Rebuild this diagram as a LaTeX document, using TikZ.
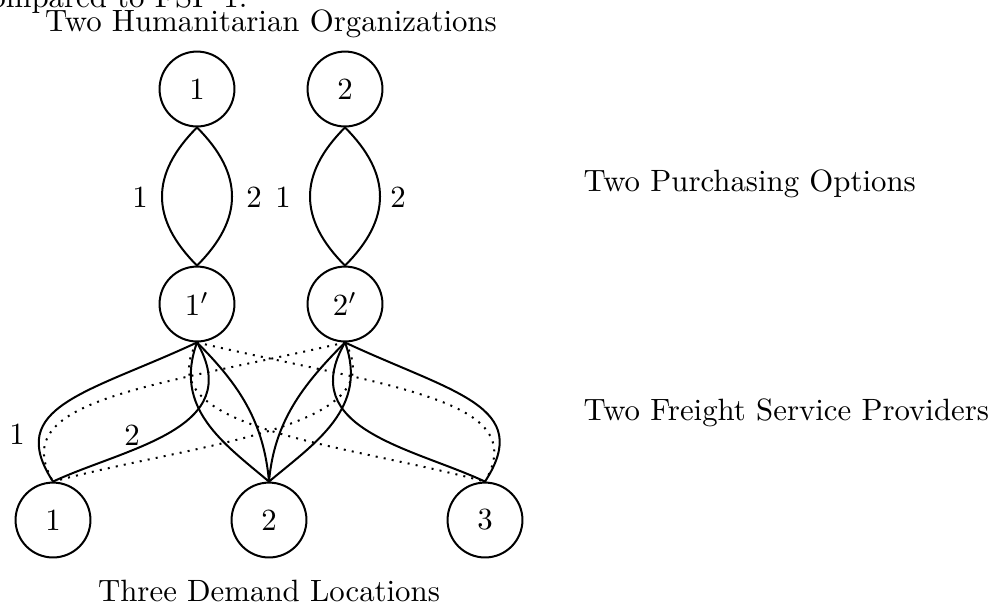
\documentclass[tikz,border=0pt]{standalone}
\begin{document}
\begin{tikzpicture}[x=0.3245pt,y=0.3245pt,
  vert/.style={circle, draw, minimum size=24.3pt, inner sep=0pt, line width=0.65pt},
  lnk/.style={line width=0.65pt},
  dlnk/.style={line width=0.65pt, dotted},
  lbl/.style={inner sep=0pt}]
\useasboundingbox (0,0) rectangle (995,-605);
% captions
\node[lbl, anchor=base east] (cut) at (248,-7) {compared to FSP 1.};
\node[lbl, anchor=base] (tho) at (271,-31) {Two Humanitarian Organizations};
\node[lbl, anchor=base west] (tpo) at (583,-191) {Two Purchasing Options};
\node[lbl, anchor=base west] (tfsp) at (583,-420) {Two Freight Service Providers};
\node[lbl, anchor=base] (tdl) at (269,-601) {Three Demand Locations};
% vertices
\node[vert] (o1) at (197,-89) {1};
\node[vert] (o2) at (345,-89) {2};
\node[vert] (m1) at (197,-304) {$1'$};
\node[vert] (m2) at (345,-304) {$2'$};
\node[vert] (d1) at (53,-520) {1};
\node[vert] (d2) at (269,-520) {2};
\node[vert] (d3) at (485,-520) {3};
% purchasing links
\draw[lnk] (o1.south) .. controls +(225:66) and +(135:66) .. (m1.north);
\draw[lnk] (o1.south) .. controls +(-45:66) and +(45:66) .. (m1.north);
\draw[lnk] (o2.south) .. controls +(225:66) and +(135:66) .. (m2.north);
\draw[lnk] (o2.south) .. controls +(-45:66) and +(45:66) .. (m2.north);
\node[lbl] (l11) at (140,-197) {1};
\node[lbl] (l12) at (254,-197) {2};
\node[lbl] (l21) at (283,-197) {1};
\node[lbl] (l22) at (398,-197) {2};
% 1' -> demand
\draw[lnk] (m1.south) .. controls +(205:120) and +(123:90) .. (d1.north);
\draw[lnk] (m1.south) .. controls +(-60:100) and +(25:80) .. (d1.north);
\draw[lnk] (m1.south) .. controls +(-45:60) and +(95:60) .. (d2.north);
\draw[lnk] (m1.south) .. controls +(-110:70) and +(140:60) .. (d2.north);
\draw[dlnk] (m1.south) .. controls +(-13:200) and +(60:95) .. (d3.north);
\draw[dlnk] (m1.south) .. controls +(-120:100) and +(165:150) .. (d3.north);
% 2' -> demand
\draw[dlnk] (m2.south) .. controls +(193:200) and +(120:95) .. (d1.north);
\draw[dlnk] (m2.south) .. controls +(-60:100) and +(15:150) .. (d1.north);
\draw[lnk] (m2.south) .. controls +(-135:60) and +(85:60) .. (d2.north);
\draw[lnk] (m2.south) .. controls +(-70:70) and +(40:60) .. (d2.north);
\draw[lnk] (m2.south) .. controls +(-25:120) and +(57:90) .. (d3.north);
\draw[lnk] (m2.south) .. controls +(240:100) and +(155:80) .. (d3.north);
\node[lbl] (f1) at (17,-434) {1};
\node[lbl] (f2) at (132,-435) {2};
\end{tikzpicture}
\end{document}
